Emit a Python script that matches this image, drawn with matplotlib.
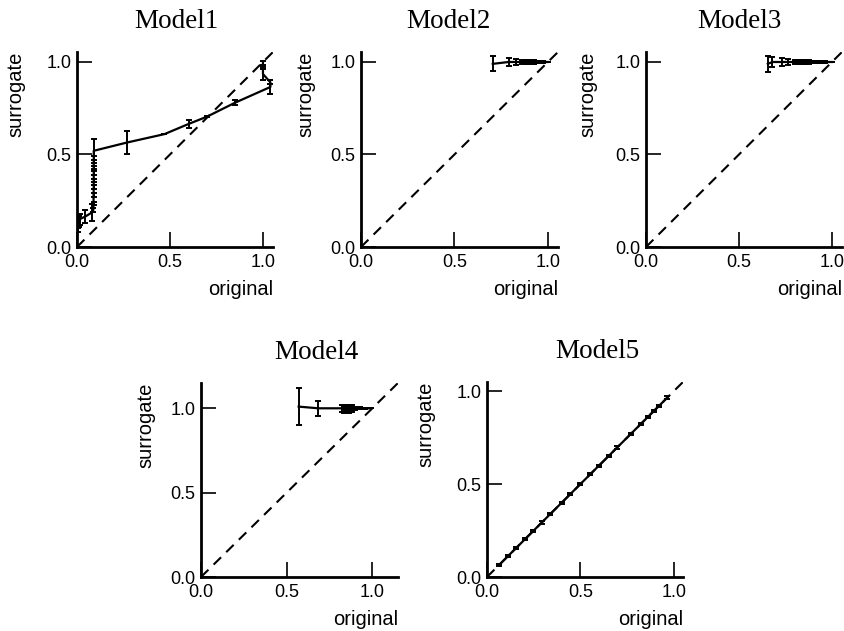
import numpy as np
import matplotlib
matplotlib.use('Agg')
import matplotlib.pyplot as plt

plt.rcParams['font.family'] = ['Liberation Sans', 'DejaVu Sans']

titles = ["Model1", "Model2", "Model3", "Model4", "Model5"]
tick_values = [0.0, 0.5, 1.0]
tick_labels = ["0.0", "0.5", "1.0"]

# Model1: surrogate vs original, with vertical error bars
m1_x = [0.004, 0.007, 0.010, 0.014, 0.045, 0.078, 0.088, 0.089, 0.089, 0.090, 0.090,
        0.090, 0.090, 0.090, 0.090, 0.270, 0.470, 0.600, 0.700, 0.850, 1.040, 1.040,
        1.000, 1.000, 1.000]
m1_y = [0.100, 0.120, 0.140, 0.150, 0.165, 0.185, 0.200, 0.235, 0.280, 0.325, 0.360,
        0.400, 0.430, 0.480, 0.520, 0.565, 0.610, 0.665, 0.705, 0.780, 0.865, 0.890,
        0.935, 0.970, 0.995]
m1_err = [0.020, 0.020, 0.030, 0.030, 0.035, 0.045, 0.010, 0.010, 0.010, 0.010, 0.010,
          0.010, 0.010, 0.010, 0.065, 0.060, 0.000, 0.020, 0.005, 0.015, 0.040, 0.010,
          0.030, 0.010, 0.010]

m2_x = [0.705, 0.790, 0.830, 0.860, 0.885, 0.895, 0.905, 0.915, 0.925, 0.935, 0.945,
        0.955, 0.965, 0.975, 0.985, 1.000]
m2_y = [0.990, 1.000, 1.000, 1.000, 1.000, 1.000, 1.000, 1.000, 1.000, 1.000, 1.000,
        1.000, 1.000, 1.000, 1.000, 1.000]
m2_err = [0.040, 0.020, 0.014, 0.012, 0.013, 0.012, 0.011, 0.010, 0.009, 0.008, 0.007,
          0.006, 0.005, 0.004, 0.002, 0.000]

m3_x = [0.655, 0.680, 0.730, 0.765, 0.800, 0.815, 0.830, 0.845, 0.860, 0.875, 0.890,
        0.905, 0.920, 0.935, 0.950, 0.965, 0.980, 0.990, 1.000]
m3_y = [0.990, 1.000, 1.000, 1.000, 1.000, 1.000, 1.000, 1.000, 1.000, 1.000, 1.000,
        1.000, 1.000, 1.000, 1.000, 1.000, 1.000, 1.000, 1.000]
m3_err = [0.045, 0.025, 0.020, 0.015, 0.012, 0.012, 0.011, 0.011, 0.010, 0.009, 0.008,
          0.007, 0.006, 0.005, 0.004, 0.003, 0.002, 0.001, 0.000]

m4_x = [0.570, 0.685, 0.825, 0.835, 0.845, 0.855, 0.865, 0.875, 0.880, 0.900, 0.930,
        0.960, 0.990]
m4_y = [1.010, 1.000, 1.000, 0.995, 1.000, 1.000, 0.995, 1.000, 1.000, 1.000, 1.000,
        1.000, 1.000]
m4_err = [0.110, 0.045, 0.020, 0.020, 0.020, 0.020, 0.020, 0.020, 0.020, 0.010, 0.007,
          0.004, 0.000]

m5_x = [0.066, 0.115, 0.156, 0.204, 0.249, 0.294, 0.339, 0.400, 0.446, 0.500, 0.554,
        0.599, 0.652, 0.697, 0.769, 0.823, 0.860, 0.894, 0.921, 0.966]
m5_y = [0.066, 0.115, 0.156, 0.204, 0.249, 0.294, 0.339, 0.400, 0.446, 0.500, 0.554,
        0.599, 0.652, 0.697, 0.769, 0.823, 0.860, 0.894, 0.921, 0.966]
m5_err = [0.006] * len(m5_x)

series = [(m1_x, m1_y, m1_err), (m2_x, m2_y, m2_err), (m3_x, m3_y, m3_err),
          (m4_x, m4_y, m4_err), (m5_x, m5_y, m5_err)]

# layout in pixels: left, top, right, bottom, axis limit, ylabel offset, title centre
W, H = 845, 631
layout = [(77, 52, 273, 247, 1.054, -52, 176),
          (361, 52, 558, 247, 1.054, -46, 448),
          (646, 52, 842, 247, 1.054, -49, 739),
          (201, 383, 398, 577, 1.15, -46, 316),
          (487, 382, 683, 577, 1.05, -52, 597)]

fig = plt.figure(figsize=(W / 100, H / 100), dpi=100)

for title, (x, y, err), (l, t, r, b, lim, yoff, tx) in zip(titles, series, layout):
    ax = fig.add_axes([l / W, (H - b) / H, (r - l) / W, (b - t) / H])
    ax.plot([0, lim], [0, lim], color='k', lw=1.5, dashes=(5, 3.5))
    ax.errorbar(x, y, yerr=err, color='k', lw=1.6, elinewidth=1.4,
                capsize=2.0, capthick=1.4)
    ax.set_xlim(0, lim)
    ax.set_ylim(0, lim)
    for side in ['top', 'right']:
        ax.spines[side].set_visible(False)
    for side in ['left', 'bottom']:
        ax.spines[side].set_linewidth(2.0)
    ax.set_xticks(tick_values, tick_labels)
    ax.set_yticks(tick_values, tick_labels)
    ax.tick_params(direction='in', length=11, width=1.2, labelsize=13)
    ax.tick_params(axis='x', pad=5)
    ax.tick_params(axis='y', pad=4)
    ax.set_ylabel('surrogate', loc='top', fontsize=14.5)
    ax.yaxis.set_label_coords(yoff / (r - l), 1.0)
    ax.set_xlabel('original', loc='right', fontsize=14.5)
    ax.xaxis.set_label_coords(1.0, -33 / (b - t))
    ax.set_title(title, family='Liberation Serif', fontsize=19.5, pad=17,
                 x=(tx - l) / (r - l))

fig.savefig('out.png', dpi=100)
